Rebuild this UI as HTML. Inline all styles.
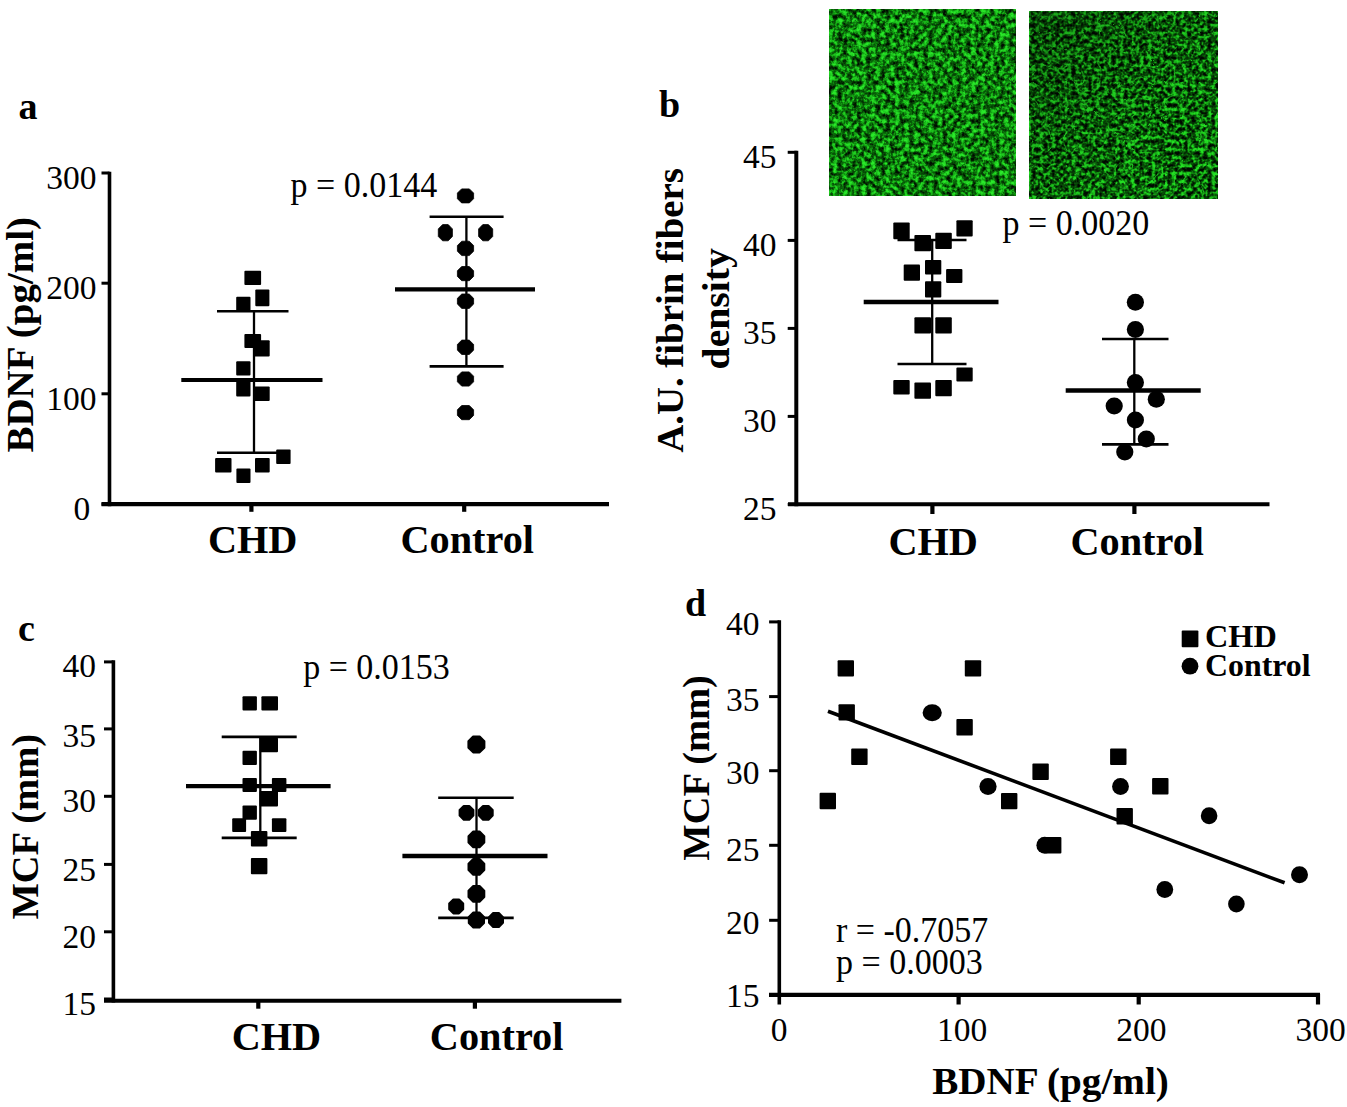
<!DOCTYPE html>
<html><head><meta charset="utf-8"><style>
html,body{margin:0;padding:0;background:#fff;}
svg{display:block;}
text{font-family:"Liberation Serif",serif;fill:#000;}
</style></head><body>
<svg width="1347" height="1107" viewBox="0 0 1347 1107">
<rect width="1347" height="1107" fill="#fff"/>

<defs>
<filter id="f1" x="0" y="0" width="100%" height="100%" color-interpolation-filters="sRGB">
 <feTurbulence type="fractalNoise" baseFrequency="0.21" numOctaves="3" seed="3" result="n"/>
 <feColorMatrix in="n" type="matrix" values="0 0 0 0 0  0 0 0 0 0  0 0 0 0 0  2.8 0 0 0 -0.66" result="a1"/>
 <feColorMatrix in="n" type="matrix" values="0 0 0 0 0  0 0 0 0 0  0 0 0 0 0  3.6 0 0 0 -1.78" result="a2"/>
 <feTurbulence type="turbulence" baseFrequency="0.07" numOctaves="2" seed="10" result="t"/>
 <feColorMatrix in="t" type="matrix" values="0 0 0 0 0  0 0 0 0 0  0 0 0 0 0  -4 0 0 0 0.3" result="fa"/>
 <feComposite in="a2" in2="fa" operator="arithmetic" k1="0" k2="1" k3="1" k4="0" result="a2b"/>
 <feFlood flood-color="#0e960e"/><feComposite in2="a1" operator="in" result="g1"/>
 <feFlood flood-color="#2ae82a"/><feComposite in2="a2b" operator="in" result="g2"/>
 <feFlood flood-color="#010c01" result="bg"/>
 <feMerge result="m"><feMergeNode in="bg"/><feMergeNode in="g1"/><feMergeNode in="g2"/></feMerge>
 <feGaussianBlur in="m" stdDeviation="0.7"/>
</filter>
<filter id="f2" x="0" y="0" width="100%" height="100%" color-interpolation-filters="sRGB">
 <feTurbulence type="fractalNoise" baseFrequency="0.25" numOctaves="3" seed="11" result="n"/>
 <feColorMatrix in="n" type="matrix" values="0 0 0 0 0  0 0 0 0 0  0 0 0 0 0  2.6 0 0 0 -0.72" result="a1"/>
 <feColorMatrix in="n" type="matrix" values="0 0 0 0 0  0 0 0 0 0  0 0 0 0 0  3.4 0 0 0 -1.72" result="a2"/>
 <feTurbulence type="turbulence" baseFrequency="0.06" numOctaves="2" seed="18" result="t"/>
 <feColorMatrix in="t" type="matrix" values="0 0 0 0 0  0 0 0 0 0  0 0 0 0 0  -6 0 0 0 0.8" result="fa"/>
 <feComposite in="a2" in2="fa" operator="arithmetic" k1="0" k2="1" k3="1" k4="0" result="a2b"/>
 <feFlood flood-color="#0d8a0d"/><feComposite in2="a1" operator="in" result="g1"/>
 <feFlood flood-color="#24e024"/><feComposite in2="a2b" operator="in" result="g2"/>
 <feFlood flood-color="#010801" result="bg"/>
 <feMerge result="m"><feMergeNode in="bg"/><feMergeNode in="g1"/><feMergeNode in="g2"/></feMerge>
 <feGaussianBlur in="m" stdDeviation="0.6"/>
</filter>
<linearGradient id="g2" x1="0" y1="0" x2="1" y2="1">
 <stop offset="0" stop-color="#000" stop-opacity="0.3"/>
 <stop offset="0.4" stop-color="#000" stop-opacity="0.1"/>
 <stop offset="0.7" stop-color="#000" stop-opacity="0"/>
</linearGradient>
</defs>
<rect x="829.6" y="9.2" width="185.6" height="186.4" filter="url(#f1)"/>
<rect x="1029.9" y="11.3" width="187.7" height="187.3" filter="url(#f2)"/>
<rect x="1029.9" y="11.3" width="187.7" height="187.3" fill="url(#g2)"/>

<text x="18.5" y="119" font-size="38" font-weight="bold" text-anchor="start" >a</text>
<line x1="109.5" y1="171.7" x2="109.5" y2="506.2" stroke="#000" stroke-width="3.6"/>
<line x1="101.5" y1="504.2" x2="609" y2="504.2" stroke="#000" stroke-width="4.2"/>
<line x1="101.5" y1="173.0" x2="109.5" y2="173.0" stroke="#000" stroke-width="3"/>
<text x="96.5" y="188.8" font-size="34.5" font-weight="normal" text-anchor="end"  textLength="50.25" lengthAdjust="spacingAndGlyphs">300</text>
<line x1="101.5" y1="283.2" x2="109.5" y2="283.2" stroke="#000" stroke-width="3"/>
<text x="96.5" y="299.0" font-size="34.5" font-weight="normal" text-anchor="end"  textLength="50.25" lengthAdjust="spacingAndGlyphs">200</text>
<line x1="101.5" y1="393.8" x2="109.5" y2="393.8" stroke="#000" stroke-width="3"/>
<text x="96.5" y="409.6" font-size="34.5" font-weight="normal" text-anchor="end"  textLength="50.25" lengthAdjust="spacingAndGlyphs">100</text>
<line x1="101.5" y1="504.2" x2="109.5" y2="504.2" stroke="#000" stroke-width="3"/>
<text x="90.2" y="520.0" font-size="34.5" font-weight="normal" text-anchor="end"  textLength="16.75" lengthAdjust="spacingAndGlyphs">0</text>
<line x1="251.4" y1="504" x2="251.4" y2="511.8" stroke="#000" stroke-width="4.2"/>
<line x1="464.2" y1="504" x2="464.2" y2="511.8" stroke="#000" stroke-width="4.2"/>
<text x="252.7" y="552.6" font-size="40.3" font-weight="bold" text-anchor="middle" >CHD</text>
<text x="467.2" y="552.6" font-size="40.3" font-weight="bold" text-anchor="middle" >Control</text>
<text transform="translate(33,334.8) rotate(-90)" font-size="38.5" font-weight="bold" text-anchor="middle" textLength="235.60" lengthAdjust="spacingAndGlyphs">BDNF (pg/ml)</text>
<text x="290.5" y="197.1" font-size="34.8" font-weight="normal" text-anchor="start"  textLength="146.69" lengthAdjust="spacingAndGlyphs">p = 0.0144</text>
<line x1="254" y1="311.3" x2="254" y2="452.7" stroke="#000" stroke-width="2.3"/>
<line x1="217" y1="311.3" x2="288.5" y2="311.3" stroke="#000" stroke-width="2.6"/>
<line x1="217" y1="452.7" x2="288.5" y2="452.7" stroke="#000" stroke-width="2.6"/>
<line x1="181.3" y1="380" x2="322.5" y2="380" stroke="#000" stroke-width="4.2"/>
<rect x="244.4" y="270.8" width="16.7" height="14.1" rx="1" fill="#000"/>
<rect x="255.3" y="289.6" width="14.1" height="16.6" rx="1" fill="#000"/>
<rect x="236.2" y="296.8" width="14.3" height="14.5" rx="1" fill="#000"/>
<rect x="244.4" y="334.0" width="16.7" height="13.9" rx="1" fill="#000"/>
<rect x="253.5" y="340.2" width="16.2" height="16.3" rx="1" fill="#000"/>
<rect x="236.2" y="361.2" width="14.3" height="14.4" rx="1" fill="#000"/>
<rect x="236.2" y="381.4" width="14.3" height="15.2" rx="1" fill="#000"/>
<rect x="253.8" y="386.5" width="15.9" height="14.4" rx="1" fill="#000"/>
<rect x="215.1" y="458.0" width="16.4" height="14.4" rx="1" fill="#000"/>
<rect x="236.4" y="468.5" width="14.1" height="14.4" rx="1" fill="#000"/>
<rect x="255.0" y="458.0" width="14.7" height="14.4" rx="1" fill="#000"/>
<rect x="276.2" y="449.6" width="14.4" height="14.4" rx="1" fill="#000"/>
<line x1="466.4" y1="216.8" x2="466.4" y2="366.4" stroke="#000" stroke-width="2.3"/>
<line x1="429.6" y1="216.8" x2="503.6" y2="216.8" stroke="#000" stroke-width="2.6"/>
<line x1="429.6" y1="366.4" x2="503.6" y2="366.4" stroke="#000" stroke-width="2.6"/>
<line x1="395" y1="289.4" x2="535" y2="289.4" stroke="#000" stroke-width="4.2"/>
<polygon points="461.6,188.9 469.4,188.9 473.6,193.1 473.6,198.7 469.4,202.9 461.6,202.9 457.4,198.7 457.4,193.1" fill="#000" stroke="#000" stroke-width="0.8" stroke-linejoin="round"/>
<polygon points="442.6,224.6 448.2,224.6 452.4,228.9 452.4,236.5 448.2,240.8 442.6,240.8 438.3,236.5 438.3,228.9" fill="#000" stroke="#000" stroke-width="0.8" stroke-linejoin="round"/>
<polygon points="482.8,224.6 488.4,224.6 492.7,228.9 492.7,236.5 488.4,240.8 482.8,240.8 478.6,236.5 478.6,228.9" fill="#000" stroke="#000" stroke-width="0.8" stroke-linejoin="round"/>
<polygon points="461.8,241.2 469.2,241.2 473.6,245.5 473.6,251.3 469.2,255.6 461.8,255.6 457.4,251.3 457.4,245.5" fill="#000" stroke="#000" stroke-width="0.8" stroke-linejoin="round"/>
<polygon points="461.7,266.5 469.3,266.5 473.6,270.8 473.6,276.4 469.3,280.7 461.7,280.7 457.4,276.4 457.4,270.8" fill="#000" stroke="#000" stroke-width="0.8" stroke-linejoin="round"/>
<polygon points="461.8,294.0 469.2,294.0 473.6,298.3 473.6,304.1 469.2,308.4 461.8,308.4 457.4,304.1 457.4,298.3" fill="#000" stroke="#000" stroke-width="0.8" stroke-linejoin="round"/>
<polygon points="461.8,340.1 469.2,340.1 473.6,344.4 473.6,350.2 469.2,354.5 461.8,354.5 457.4,350.2 457.4,344.4" fill="#000" stroke="#000" stroke-width="0.8" stroke-linejoin="round"/>
<polygon points="461.7,371.9 469.3,371.9 473.6,376.2 473.6,381.8 469.3,386.1 461.7,386.1 457.4,381.8 457.4,376.2" fill="#000" stroke="#000" stroke-width="0.8" stroke-linejoin="round"/>
<polygon points="461.7,405.5 469.3,405.5 473.6,409.8 473.6,415.4 469.3,419.7 461.7,419.7 457.4,415.4 457.4,409.8" fill="#000" stroke="#000" stroke-width="0.8" stroke-linejoin="round"/>
<text x="659" y="117" font-size="38" font-weight="bold" text-anchor="start" >b</text>
<line x1="796.3" y1="150.8" x2="796.3" y2="506.2" stroke="#000" stroke-width="4.0"/>
<line x1="788" y1="504.3" x2="1269.5" y2="504.3" stroke="#000" stroke-width="4.0"/>
<line x1="787.7" y1="152.3" x2="796.8" y2="152.3" stroke="#000" stroke-width="3"/>
<text x="776.5" y="167.9" font-size="34.5" font-weight="normal" text-anchor="end"  textLength="33.50" lengthAdjust="spacingAndGlyphs">45</text>
<line x1="787.7" y1="240.4" x2="796.8" y2="240.4" stroke="#000" stroke-width="3"/>
<text x="776.5" y="256.0" font-size="34.5" font-weight="normal" text-anchor="end"  textLength="33.50" lengthAdjust="spacingAndGlyphs">40</text>
<line x1="787.7" y1="328.4" x2="796.8" y2="328.4" stroke="#000" stroke-width="3"/>
<text x="776.5" y="344.0" font-size="34.5" font-weight="normal" text-anchor="end"  textLength="33.50" lengthAdjust="spacingAndGlyphs">35</text>
<line x1="787.7" y1="416.4" x2="796.8" y2="416.4" stroke="#000" stroke-width="3"/>
<text x="776.5" y="432.0" font-size="34.5" font-weight="normal" text-anchor="end"  textLength="33.50" lengthAdjust="spacingAndGlyphs">30</text>
<line x1="787.7" y1="504.4" x2="796.8" y2="504.4" stroke="#000" stroke-width="3"/>
<text x="776.5" y="520.0" font-size="34.5" font-weight="normal" text-anchor="end"  textLength="33.50" lengthAdjust="spacingAndGlyphs">25</text>
<line x1="932.4" y1="504" x2="932.4" y2="514" stroke="#000" stroke-width="4.2"/>
<line x1="1134.4" y1="504" x2="1134.4" y2="514" stroke="#000" stroke-width="4.2"/>
<text x="933.2" y="555" font-size="40.3" font-weight="bold" text-anchor="middle" >CHD</text>
<text x="1137.2" y="555" font-size="40.3" font-weight="bold" text-anchor="middle" >Control</text>
<text transform="translate(683,310.5) rotate(-90)" font-size="38.5" font-weight="bold" text-anchor="middle" textLength="284.60" lengthAdjust="spacingAndGlyphs">A.U. fibrin fibers</text>
<text transform="translate(728.6,308.8) rotate(-90)" font-size="37.3" font-weight="bold" text-anchor="middle" textLength="121.20" lengthAdjust="spacingAndGlyphs">density</text>
<text x="1002.5" y="234.7" font-size="34.8" font-weight="normal" text-anchor="start"  textLength="146.69" lengthAdjust="spacingAndGlyphs">p = 0.0020</text>
<line x1="932.2" y1="240" x2="932.2" y2="364" stroke="#000" stroke-width="2.3"/>
<line x1="897.5" y1="240" x2="966.5" y2="240" stroke="#000" stroke-width="2.6"/>
<line x1="897.5" y1="364" x2="966.5" y2="364" stroke="#000" stroke-width="2.6"/>
<line x1="863.7" y1="302" x2="998.5" y2="302" stroke="#000" stroke-width="4.4"/>
<rect x="893.3" y="222.4" width="16.4" height="16.8" rx="1" fill="#000"/>
<rect x="956.4" y="220.3" width="16.3" height="16.3" rx="1" fill="#000"/>
<rect x="914.4" y="234.9" width="16.6" height="16.3" rx="1" fill="#000"/>
<rect x="935.3" y="232.8" width="16.5" height="16.3" rx="1" fill="#000"/>
<rect x="903.7" y="264.6" width="16.3" height="16.1" rx="1" fill="#000"/>
<rect x="925.0" y="260.1" width="16.3" height="14.3" rx="1" fill="#000"/>
<rect x="946.1" y="268.9" width="16.3" height="14.1" rx="1" fill="#000"/>
<rect x="925.0" y="281.2" width="16.3" height="16.3" rx="1" fill="#000"/>
<rect x="914.4" y="317.3" width="16.6" height="16.3" rx="1" fill="#000"/>
<rect x="935.3" y="317.3" width="16.5" height="16.3" rx="1" fill="#000"/>
<rect x="956.4" y="367.6" width="16.3" height="14.0" rx="1" fill="#000"/>
<rect x="893.3" y="379.9" width="16.4" height="14.6" rx="1" fill="#000"/>
<rect x="914.4" y="382.5" width="16.6" height="16.3" rx="1" fill="#000"/>
<rect x="935.3" y="379.9" width="16.5" height="16.3" rx="1" fill="#000"/>
<line x1="1134.3" y1="339" x2="1134.3" y2="444.4" stroke="#000" stroke-width="2.3"/>
<line x1="1102" y1="339" x2="1168.5" y2="339" stroke="#000" stroke-width="2.6"/>
<line x1="1102" y1="444.4" x2="1168.5" y2="444.4" stroke="#000" stroke-width="2.6"/>
<line x1="1065.7" y1="390.5" x2="1200.7" y2="390.5" stroke="#000" stroke-width="4.4"/>
<ellipse cx="1135.4" cy="302.3" rx="8.6" ry="8.5" fill="#000"/>
<ellipse cx="1135.4" cy="329.4" rx="8.6" ry="8.5" fill="#000"/>
<ellipse cx="1135.4" cy="382.4" rx="8.6" ry="8.5" fill="#000"/>
<ellipse cx="1156.3" cy="399.3" rx="8.6" ry="8.5" fill="#000"/>
<ellipse cx="1114.2" cy="406.1" rx="8.6" ry="8.5" fill="#000"/>
<ellipse cx="1135.4" cy="419.9" rx="8.6" ry="8.5" fill="#000"/>
<ellipse cx="1146.3" cy="439.0" rx="8.6" ry="8.5" fill="#000"/>
<ellipse cx="1124.8" cy="452.0" rx="8.6" ry="8.5" fill="#000"/>
<text x="18" y="641" font-size="38" font-weight="bold" text-anchor="start" >c</text>
<line x1="113.4" y1="660.2" x2="113.4" y2="1002.6" stroke="#000" stroke-width="3.6"/>
<line x1="104" y1="1000.8" x2="621.4" y2="1000.8" stroke="#000" stroke-width="4.0"/>
<line x1="104" y1="661.9" x2="113.4" y2="661.9" stroke="#000" stroke-width="3"/>
<line x1="104" y1="728.9" x2="113.4" y2="728.9" stroke="#000" stroke-width="3"/>
<line x1="104" y1="796.3" x2="113.4" y2="796.3" stroke="#000" stroke-width="3"/>
<line x1="104" y1="864.4" x2="113.4" y2="864.4" stroke="#000" stroke-width="3"/>
<line x1="104" y1="931.8" x2="113.4" y2="931.8" stroke="#000" stroke-width="3"/>
<line x1="104" y1="999.0" x2="113.4" y2="999.0" stroke="#000" stroke-width="3"/>
<text x="96" y="677.0" font-size="34.5" font-weight="normal" text-anchor="end"  textLength="33.50" lengthAdjust="spacingAndGlyphs">40</text>
<text x="96" y="746.6" font-size="34.5" font-weight="normal" text-anchor="end"  textLength="33.50" lengthAdjust="spacingAndGlyphs">35</text>
<text x="96" y="811.6" font-size="34.5" font-weight="normal" text-anchor="end"  textLength="33.50" lengthAdjust="spacingAndGlyphs">30</text>
<text x="96" y="881.2" font-size="34.5" font-weight="normal" text-anchor="end"  textLength="33.50" lengthAdjust="spacingAndGlyphs">25</text>
<text x="96" y="948.4" font-size="34.5" font-weight="normal" text-anchor="end"  textLength="33.50" lengthAdjust="spacingAndGlyphs">20</text>
<text x="96" y="1015.2" font-size="34.5" font-weight="normal" text-anchor="end"  textLength="33.50" lengthAdjust="spacingAndGlyphs">15</text>
<line x1="258.3" y1="1000" x2="258.3" y2="1008.7" stroke="#000" stroke-width="4.2"/>
<line x1="474.9" y1="1000" x2="474.9" y2="1008.7" stroke="#000" stroke-width="4.2"/>
<text x="276.4" y="1050.3" font-size="40.3" font-weight="bold" text-anchor="middle" >CHD</text>
<text x="496.6" y="1050.3" font-size="40.3" font-weight="bold" text-anchor="middle" >Control</text>
<text transform="translate(37.6,826.8) rotate(-90)" font-size="38.5" font-weight="bold" text-anchor="middle">MCF (mm)</text>
<text x="303.2" y="678.8" font-size="34.8" font-weight="normal" text-anchor="start"  textLength="146.69" lengthAdjust="spacingAndGlyphs">p = 0.0153</text>
<line x1="260.3" y1="736.9" x2="260.3" y2="837.9" stroke="#000" stroke-width="2.3"/>
<line x1="221.7" y1="736.9" x2="296.7" y2="736.9" stroke="#000" stroke-width="2.6"/>
<line x1="221.7" y1="837.9" x2="296.7" y2="837.9" stroke="#000" stroke-width="2.6"/>
<line x1="186" y1="786.2" x2="330.6" y2="786.2" stroke="#000" stroke-width="4.3"/>
<rect x="242.5" y="696.3" width="14.4" height="14.1" rx="1" fill="#000"/>
<rect x="261.4" y="696.3" width="16.6" height="14.1" rx="1" fill="#000"/>
<rect x="259.6" y="737.5" width="18.4" height="14.8" rx="1" fill="#000"/>
<rect x="242.5" y="750.8" width="14.4" height="14.1" rx="1" fill="#000"/>
<rect x="242.5" y="778.1" width="14.4" height="13.9" rx="1" fill="#000"/>
<rect x="271.9" y="778.1" width="14.5" height="13.9" rx="1" fill="#000"/>
<rect x="259.6" y="791.1" width="18.4" height="15.4" rx="1" fill="#000"/>
<rect x="242.5" y="805.6" width="14.4" height="14.1" rx="1" fill="#000"/>
<rect x="232.2" y="818.2" width="13.9" height="13.9" rx="1" fill="#000"/>
<rect x="271.9" y="818.2" width="14.5" height="13.9" rx="1" fill="#000"/>
<rect x="250.9" y="830.9" width="16.5" height="15.7" rx="1" fill="#000"/>
<rect x="250.9" y="858.0" width="16.5" height="16.2" rx="1" fill="#000"/>
<line x1="476.5" y1="797.8" x2="476.5" y2="917.9" stroke="#000" stroke-width="2.3"/>
<line x1="438.2" y1="797.8" x2="513.7" y2="797.8" stroke="#000" stroke-width="2.6"/>
<line x1="438.2" y1="917.9" x2="513.7" y2="917.9" stroke="#000" stroke-width="2.6"/>
<line x1="402.4" y1="856" x2="547.5" y2="856" stroke="#000" stroke-width="4.3"/>
<polygon points="473.2,736.5 479.6,736.5 484.3,741.2 484.3,747.6 479.6,752.3 473.2,752.3 468.5,747.6 468.5,741.2" fill="#000" stroke="#000" stroke-width="2.2" stroke-linejoin="round"/>
<polygon points="463.8,806.0 469.2,806.0 473.3,810.1 473.3,815.5 469.2,819.6 463.8,819.6 459.7,815.5 459.7,810.1" fill="#000" stroke="#000" stroke-width="2.2" stroke-linejoin="round"/>
<polygon points="483.1,806.0 488.5,806.0 492.6,810.1 492.6,815.5 488.5,819.6 483.1,819.6 479.0,815.5 479.0,810.1" fill="#000" stroke="#000" stroke-width="2.2" stroke-linejoin="round"/>
<polygon points="473.3,831.6 479.5,831.6 484.2,836.3 484.2,842.5 479.5,847.2 473.3,847.2 468.6,842.5 468.6,836.3" fill="#000" stroke="#000" stroke-width="2.2" stroke-linejoin="round"/>
<polygon points="473.3,859.1 479.5,859.1 484.2,863.8 484.2,870.0 479.5,874.7 473.3,874.7 468.6,870.0 468.6,863.8" fill="#000" stroke="#000" stroke-width="2.2" stroke-linejoin="round"/>
<polygon points="473.3,886.0 479.5,886.0 484.2,890.7 484.2,896.9 479.5,901.6 473.3,901.6 468.6,896.9 468.6,890.7" fill="#000" stroke="#000" stroke-width="2.2" stroke-linejoin="round"/>
<polygon points="453.4,899.5 459.0,899.5 463.1,903.6 463.1,909.2 459.0,913.3 453.4,913.3 449.3,909.2 449.3,903.6" fill="#000" stroke="#000" stroke-width="2.2" stroke-linejoin="round"/>
<polygon points="473.4,912.5 479.4,912.5 483.9,917.0 483.9,923.0 479.4,927.5 473.4,927.5 468.9,923.0 468.9,917.0" fill="#000" stroke="#000" stroke-width="2.2" stroke-linejoin="round"/>
<polygon points="493.2,913.1 498.8,913.1 502.9,917.2 502.9,922.8 498.8,926.9 493.2,926.9 489.1,922.8 489.1,917.2" fill="#000" stroke="#000" stroke-width="2.2" stroke-linejoin="round"/>
<text x="685" y="616" font-size="38" font-weight="bold" text-anchor="start" >d</text>
<line x1="779.3" y1="620.2" x2="779.3" y2="1004.6" stroke="#000" stroke-width="3.6"/>
<line x1="769" y1="994.8" x2="1320" y2="994.8" stroke="#000" stroke-width="4.2"/>
<line x1="769.1" y1="621.9" x2="779.3" y2="621.9" stroke="#000" stroke-width="3"/>
<line x1="769.1" y1="696.6" x2="779.3" y2="696.6" stroke="#000" stroke-width="3"/>
<line x1="769.1" y1="770.7" x2="779.3" y2="770.7" stroke="#000" stroke-width="3"/>
<line x1="769.1" y1="845.3" x2="779.3" y2="845.3" stroke="#000" stroke-width="3"/>
<line x1="769.1" y1="920.3" x2="779.3" y2="920.3" stroke="#000" stroke-width="3"/>
<line x1="769.1" y1="994.6" x2="779.3" y2="994.6" stroke="#000" stroke-width="3"/>
<text x="759.5" y="634.7" font-size="34.5" font-weight="normal" text-anchor="end"  textLength="33.50" lengthAdjust="spacingAndGlyphs">40</text>
<text x="759.5" y="710.6" font-size="34.5" font-weight="normal" text-anchor="end"  textLength="33.50" lengthAdjust="spacingAndGlyphs">35</text>
<text x="759.5" y="784.3" font-size="34.5" font-weight="normal" text-anchor="end"  textLength="33.50" lengthAdjust="spacingAndGlyphs">30</text>
<text x="759.5" y="860.6" font-size="34.5" font-weight="normal" text-anchor="end"  textLength="33.50" lengthAdjust="spacingAndGlyphs">25</text>
<text x="759.5" y="933.8" font-size="34.5" font-weight="normal" text-anchor="end"  textLength="33.50" lengthAdjust="spacingAndGlyphs">20</text>
<text x="759.5" y="1007.0" font-size="34.5" font-weight="normal" text-anchor="end"  textLength="33.50" lengthAdjust="spacingAndGlyphs">15</text>
<line x1="958.6" y1="994" x2="958.6" y2="1004.5" stroke="#000" stroke-width="4.2"/>
<line x1="1138.7" y1="994" x2="1138.7" y2="1004.5" stroke="#000" stroke-width="4.2"/>
<line x1="1318.0" y1="994" x2="1318.0" y2="1004.5" stroke="#000" stroke-width="4.2"/>
<text x="779.1" y="1041" font-size="34.5" font-weight="normal" text-anchor="middle"  textLength="16.75" lengthAdjust="spacingAndGlyphs">0</text>
<text x="962.2" y="1041" font-size="34.5" font-weight="normal" text-anchor="middle"  textLength="50.25" lengthAdjust="spacingAndGlyphs">100</text>
<text x="1141.3" y="1041" font-size="34.5" font-weight="normal" text-anchor="middle"  textLength="50.25" lengthAdjust="spacingAndGlyphs">200</text>
<text x="1320.7" y="1041" font-size="34.5" font-weight="normal" text-anchor="middle"  textLength="50.25" lengthAdjust="spacingAndGlyphs">300</text>
<text x="1050.5" y="1094.3" font-size="38.5" font-weight="bold" text-anchor="middle"  textLength="236.70" lengthAdjust="spacingAndGlyphs">BDNF (pg/ml)</text>
<text transform="translate(709,767.9) rotate(-90)" font-size="38.5" font-weight="bold" text-anchor="middle">MCF (mm)</text>
<text x="836" y="942.1" font-size="34.8" font-weight="normal" text-anchor="start"  textLength="152.33" lengthAdjust="spacingAndGlyphs">r = -0.7057</text>
<text x="836" y="973.5" font-size="34.8" font-weight="normal" text-anchor="start"  textLength="146.69" lengthAdjust="spacingAndGlyphs">p = 0.0003</text>
<rect x="1181.7" y="630.6" width="16.7" height="16.7" rx="1" fill="#000"/>
<ellipse cx="1190.0" cy="666.2" rx="8.4" ry="8.4" fill="#000"/>
<text x="1205" y="647.3" font-size="32.3" font-weight="bold" text-anchor="start" >CHD</text>
<text x="1205" y="676.4" font-size="32.3" font-weight="bold" text-anchor="start"  textLength="105.60" lengthAdjust="spacingAndGlyphs">Control</text>
<line x1="828" y1="711.2" x2="1284.6" y2="882.8" stroke="#000" stroke-width="3.6"/>
<rect x="837.6" y="660.2" width="16.4" height="16.4" rx="1" fill="#000"/>
<rect x="964.8" y="660.2" width="16.4" height="16.4" rx="1" fill="#000"/>
<rect x="838.5" y="704.2" width="16.4" height="16.4" rx="1" fill="#000"/>
<rect x="956.4" y="719.0" width="16.4" height="16.4" rx="1" fill="#000"/>
<rect x="851.2" y="748.5" width="16.4" height="16.4" rx="1" fill="#000"/>
<rect x="819.6" y="792.8" width="16.4" height="16.4" rx="1" fill="#000"/>
<rect x="1032.4" y="763.5" width="16.4" height="16.4" rx="1" fill="#000"/>
<rect x="1001.0" y="792.9" width="16.4" height="16.4" rx="1" fill="#000"/>
<rect x="1110.1" y="748.6" width="16.4" height="16.4" rx="1" fill="#000"/>
<rect x="1152.1" y="778.1" width="16.4" height="16.4" rx="1" fill="#000"/>
<rect x="1116.5" y="808.0" width="16.4" height="16.4" rx="1" fill="#000"/>
<rect x="1045.0" y="837.0" width="16.4" height="16.4" rx="1" fill="#000"/>
<ellipse cx="932.2" cy="712.7" rx="9.6" ry="8.5" fill="#000"/>
<ellipse cx="988.0" cy="786.4" rx="8.6" ry="8.5" fill="#000"/>
<ellipse cx="1120.5" cy="786.5" rx="8.4" ry="8.5" fill="#000"/>
<ellipse cx="1044.7" cy="845.2" rx="8.3" ry="8.5" fill="#000"/>
<ellipse cx="1209.1" cy="815.7" rx="8.3" ry="8.5" fill="#000"/>
<ellipse cx="1164.8" cy="889.4" rx="8.4" ry="8.5" fill="#000"/>
<ellipse cx="1236.4" cy="904.1" rx="8.3" ry="8.5" fill="#000"/>
<ellipse cx="1299.5" cy="874.8" rx="8.5" ry="8.5" fill="#000"/>
</svg>
</body></html>
